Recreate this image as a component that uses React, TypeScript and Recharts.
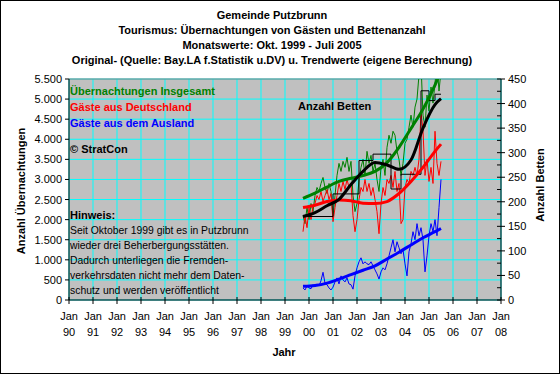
import { CartesianGrid, ComposedChart, Line, ReferenceLine, XAxis, YAxis } from "recharts";

const FONT = "'Liberation Sans', Arial, sans-serif";

// Monatswerte Okt. 1999 (Index 0) bis Juli 2005 (Index 69)
const startJahr = 1999.75;

const jahre = [1990, 1991, 1992, 1993, 1994, 1995, 1996, 1997, 1998, 1999, 2000, 2001, 2002, 2003, 2004, 2005, 2006, 2007, 2008];
const jahrLabels = ["90", "91", "92", "93", "94", "95", "96", "97", "98", "99", "00", "01", "02", "03", "04", "05", "06", "07", "08"];
const linksTicks = [0, 500, 1000, 1500, 2000, 2500, 3000, 3500, 4000, 4500, 5000, 5500];
const rechtsTicks = [0, 25, 50, 75, 100, 125, 150, 175, 200, 225, 250, 275, 300, 325, 350, 375, 400, 425, 450];

const gesamt = [
  2100, 1900, 2300, 2000, 2400, 2200, 2600, 2800, 2700, 2900, 3050, 2800, 2650, 2900, 2700, 2050, 2600, 3100, 3400, 3200,
  3450, 3300, 3550, 3200, 3450, 2600, 2200, 2400, 3000, 3300, 3500, 3100, 3700, 3400, 3600, 3200, 3400, 3000, 2700, 3300,
  3500, 3100, 3800, 4100, 3900, 4200, 4100, 3700, 3500, 3100, 3400, 3900, 4000, 4300, 4600, 4300, 4800, 5000, 5600, 5900,
  4600, 4300, 5100, 4700, 5300, 4900, 5400, 5900, 5200, 5700,
];
const deutschland = [
  1700, 2100, 1800, 2300, 2000, 2350, 2400, 2600, 2500, 2700, 2450, 2600, 2750, 2500, 2650, 1950, 2300, 2600, 2900, 2700,
  2950, 2750, 3000, 2800, 2900, 2100, 1700, 2000, 2500, 2800, 2700, 3000, 2700, 2900, 2600, 2800, 2500, 2200, 1650, 2400,
  2800, 2600, 3000, 2900, 3100, 2800, 3200, 2700, 2900, 1900, 2000, 2800, 3000, 2900, 3200, 3100, 3300, 3100, 3500, 4700,
  4200, 3100, 3500, 2950, 3300, 2900, 4200, 3400, 3100, 3450,
];
const ausland = [
  300, 250, 350, 300, 280, 380, 330, 400, 350, 480, 690, 420, 380, 300, 250, 320, 450, 550, 400, 600,
  500, 450, 550, 400, 380, 270, 600, 800, 950, 1050, 900, 950, 900, 880, 950, 850, 750, 650, 520, 700,
  800, 750, 900, 1100, 1300, 1500, 1200, 1450, 1300, 1150, 1250, 900, 600, 1200, 1400, 1700, 1500, 1900, 1600, 1800,
  1500, 700, 1100, 1600, 1900, 1700, 2000, 1600, 2300, 3000,
];
const betten = [
  170, 170, 170, 170, 170, 170, 170, 170, 170, 170, 170, 170, 170, 170, 170, 216, 216, 216, 216, 216,
  216, 216, 216, 216, 216, 216, 216, 216, 284, 284, 284, 284, 284, 284, 284, 297, 297, 297, 297, 297,
  297, 297, 297, 297, 226, 226, 226, 226, 226, 256, 256, 256, 256, 256, 256, 256, 256, 256, 256, 426,
  426, 426, 426, 406, 406, 406, 419, 419, 419, 419,
];

// Trendwerte (eigene Berechnung), an ausgewählten Monaten
const trendMonate = [0, 6, 12, 18, 24, 30, 36, 42, 48, 54, 60, 66, 69];
const trendGesamt = [2530, 2660, 2810, 2950, 3030, 3100, 3200, 3420, 3800, 4270, 4750, 5350, 5700];
const trendDeutschland = [2300, 2360, 2450, 2490, 2470, 2410, 2400, 2450, 2650, 2950, 3300, 3700, 3880];
const trendAusland = [340, 360, 420, 520, 630, 740, 850, 1020, 1190, 1370, 1550, 1700, 1780];
const trendBetten = [170, 178, 192, 205, 235, 262, 280, 275, 266, 285, 350, 398, 410];

const data = gesamt.map((g, i) => {
  const row: Record<string, number> = {
    t: startJahr + i / 12,
    gesamt: g,
    deutschland: deutschland[i],
    ausland: ausland[i],
    betten: betten[i],
  };
  const k = trendMonate.indexOf(i);
  if (k >= 0) {
    row.tGesamt = trendGesamt[k];
    row.tDeutschland = trendDeutschland[k];
    row.tAusland = trendAusland[k];
    row.tBetten = trendBetten[k];
  }
  return row;
});

const fmt = (v: number) => (v >= 1000 ? `${Math.floor(v / 1000)}.${String(v % 1000).padStart(3, "0")}` : String(v));

function LinksTick({ x, y, payload }: any) {
  return (
    <g>
      <line x1={x - 4} x2={x} y1={y} y2={y} stroke="#000" />
      <text x={x - 7} y={y} textAnchor="end" dominantBaseline="central" fontSize={11} fontFamily={FONT} fill="#000">
        {fmt(payload.value)}
      </text>
    </g>
  );
}

function RechtsTick({ x, y, payload }: any) {
  const major = payload.value % 50 === 0;
  return (
    <g>
      <line x1={x - 4} x2={major ? x + 4 : x} y1={y} y2={y} stroke="#000" />
      {major && (
        <text x={x + 7} y={y} textAnchor="start" dominantBaseline="central" fontSize={11} fontFamily={FONT} fill="#000">
          {payload.value}
        </text>
      )}
    </g>
  );
}

function JahrTick({ x, y, payload }: any) {
  const idx = jahre.indexOf(payload.value);
  return (
    <g>
      <line x1={x} x2={x} y1={y - 3} y2={y + 4} stroke="#000" />
      <text x={x} y={y + 16} textAnchor="middle" dominantBaseline="central" fontSize={11} fontFamily={FONT} fill="#000">
        Jan
      </text>
      <text x={x} y={y + 32} textAnchor="middle" dominantBaseline="central" fontSize={11} fontFamily={FONT} fill="#000">
        {jahrLabels[idx]}
      </text>
    </g>
  );
}

const titel = [
  "Gemeinde Putzbrunn",
  "Tourismus: Übernachtungen von Gästen und Bettenanzahl",
  "Monatswerte: Okt. 1999 - Juli 2005",
  "Original- (Quelle: Bay.LA f.Statistik u.DV) u. Trendwerte (eigene Berechnung)",
];

const hinweis = [
  "Seit Oktober 1999 gibt es in Putzbrunn",
  "wieder drei Beherbergungsstätten.",
  "Dadurch unterliegen die Fremden-",
  "verkehrsdaten nicht mehr dem Daten-",
  "schutz und werden veröffentlicht",
];

export default function App() {
  return (
    <div style={{ position: "absolute", left: 0, top: 0, width: 560, height: 374, background: "#fff" }}>
      <ComposedChart width={560} height={374} data={data} margin={{ top: 79, right: 0, bottom: 0, left: 0 }}>
        <CartesianGrid yAxisId="left" stroke="#00FFFF" fill="#C0C0C0" fillOpacity={1} />
        <XAxis
          dataKey="t"
          type="number"
          domain={[1990, 2008]}
          ticks={jahre}
          interval={0}
          height={74}
          tickSize={0}
          tickMargin={0}
          tickLine={false}
          tick={<JahrTick />}
          axisLine={{ stroke: "#000" }}
          allowDataOverflow
        />
        <YAxis
          yAxisId="left"
          domain={[0, 5500]}
          ticks={linksTicks}
          interval={0}
          width={69}
          tickSize={0}
          tickMargin={0}
          tickLine={false}
          tick={<LinksTick />}
          axisLine={{ stroke: "#000" }}
          allowDataOverflow
        />
        <YAxis
          yAxisId="right"
          orientation="right"
          domain={[0, 450]}
          ticks={rechtsTicks}
          interval={0}
          width={59}
          tickSize={0}
          tickMargin={0}
          tickLine={false}
          tick={<RechtsTick />}
          axisLine={{ stroke: "#000" }}
          allowDataOverflow
        />
        <ReferenceLine yAxisId="left" y={5500} stroke="#808080" />
        <Line yAxisId="left" dataKey="gesamt" stroke="#008000" strokeWidth={1} dot={false} activeDot={false} type="linear" isAnimationActive={false} />
        <Line yAxisId="left" dataKey="deutschland" stroke="#FF0000" strokeWidth={1} dot={false} activeDot={false} type="linear" isAnimationActive={false} />
        <Line yAxisId="left" dataKey="ausland" stroke="#0000FF" strokeWidth={1} dot={false} activeDot={false} type="linear" isAnimationActive={false} />
        <Line yAxisId="right" dataKey="betten" stroke="#000" strokeWidth={1} dot={false} activeDot={false} type="stepAfter" isAnimationActive={false} />
        <Line yAxisId="left" dataKey="tGesamt" stroke="#008000" strokeWidth={3} dot={false} activeDot={false} type="monotone" connectNulls isAnimationActive={false} />
        <Line yAxisId="left" dataKey="tDeutschland" stroke="#FF0000" strokeWidth={3} dot={false} activeDot={false} type="monotone" connectNulls isAnimationActive={false} />
        <Line yAxisId="left" dataKey="tAusland" stroke="#0000FF" strokeWidth={3} dot={false} activeDot={false} type="monotone" connectNulls isAnimationActive={false} />
        <Line yAxisId="right" dataKey="tBetten" stroke="#000" strokeWidth={3} dot={false} activeDot={false} type="monotone" connectNulls isAnimationActive={false} />
      </ComposedChart>
      <svg width={560} height={374} style={{ position: "absolute", left: 0, top: 0, pointerEvents: "none" }} fontFamily={FONT}>
        <rect x={0.5} y={0.5} width={559} height={373} fill="none" stroke="#000" />
        {titel.map((t, i) => (
          <text key={t} x={272} y={15 + i * 15} textAnchor="middle" dominantBaseline="central" fontSize={11} fontWeight="bold">
            {t}
          </text>
        ))}
        <text x={70} y={91} dominantBaseline="central" fontSize={11} fontWeight="bold" fill="#008000">Übernachtungen Insgesamt</text>
        <text x={70} y={107} dominantBaseline="central" fontSize={11} fontWeight="bold" fill="#FF0000">Gäste aus Deutschland</text>
        <text x={70} y={123} dominantBaseline="central" fontSize={11} fontWeight="bold" fill="#0000FF">Gäste aus dem Ausland</text>
        <text x={70} y={149} dominantBaseline="central" fontSize={11} fontWeight="bold">© StratCon</text>
        <text x={298} y={106} dominantBaseline="central" fontSize={11} fontWeight="bold">Anzahl Betten</text>
        <text x={70} y={215} dominantBaseline="central" fontSize={11} fontWeight="bold">Hinweis:</text>
        {hinweis.map((t, i) => (
          <text key={t} x={70} y={230 + i * 15} dominantBaseline="central" fontSize={10.4}>
            {t}
          </text>
        ))}
        <text x={284} y={352} textAnchor="middle" dominantBaseline="central" fontSize={11} fontWeight="bold">Jahr</text>
        <text x={21} y={191} textAnchor="middle" dominantBaseline="central" fontSize={11} fontWeight="bold" transform="rotate(-90 21 191)">
          Anzahl Übernachtungen
        </text>
        <text x={540} y={185} textAnchor="middle" dominantBaseline="central" fontSize={11} fontWeight="bold" transform="rotate(-90 540 185)">
          Anzahl Betten
        </text>
      </svg>
    </div>
  );
}
